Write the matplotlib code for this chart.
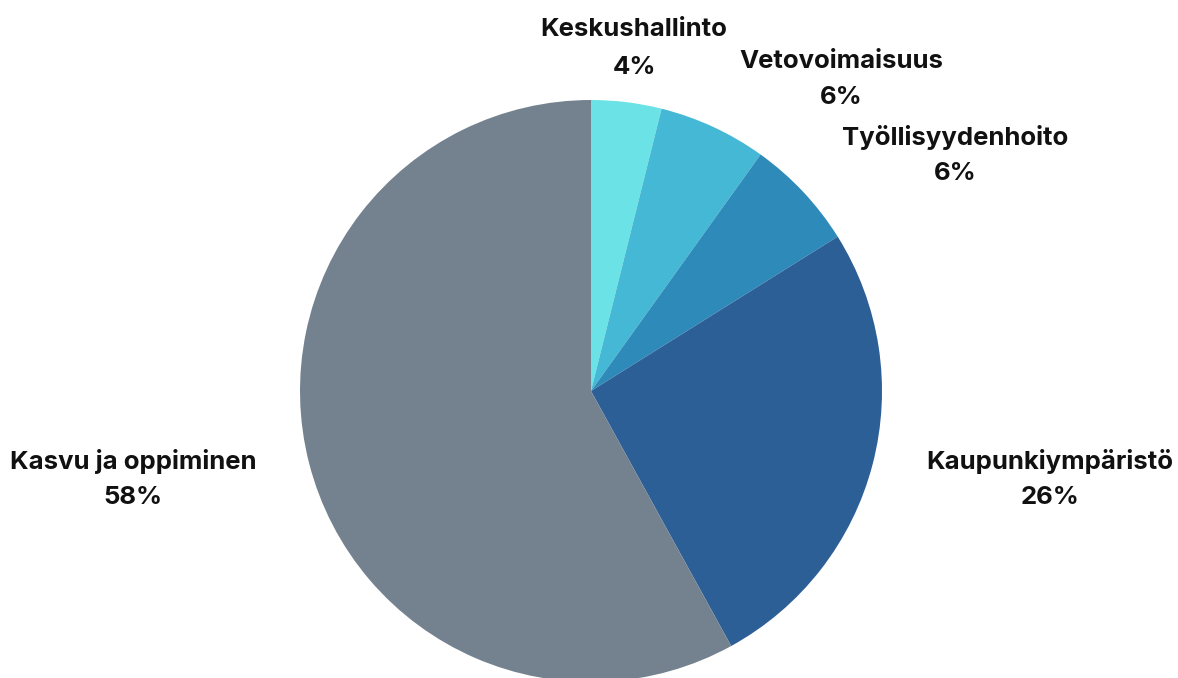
import matplotlib
matplotlib.use("Agg")
import matplotlib.pyplot as plt

categories = ["Keskushallinto", "Vetovoimaisuus", "Työllisyydenhoito", "Kaupunkiympäristö", "Kasvu ja oppiminen"]
values = [3.9, 6.0, 6.2, 25.9, 58.0]
pct_labels = ["4%", "6%", "6%", "26%", "58%"]
colors = ["#6BE3E6", "#45B8D6", "#2E8BB9", "#2D5F97", "#74828F"]

W, H = 1178, 678
fig = plt.figure(figsize=(W / 100, H / 100), dpi=100)
fig.patch.set_facecolor("white")

cx, cy, r = 591, 391, 291
ax = fig.add_axes([(cx - r) / W, (H - cy - r) / H, 2 * r / W, 2 * r / H])
ax.pie(values, colors=colors, startangle=90, counterclock=False,
       wedgeprops=dict(linewidth=0))
ax.set_xlim(-1, 1)
ax.set_ylim(-1, 1)
ax.set_aspect("equal")
ax.axis("off")

# label positions in pixels (center x, name y, pct y)
label_pos = [(634, 30, 68), (841, 62, 98), (955, 138, 173), (1050, 462, 497), (133, 462, 497)]
font = dict(family=["Inter", "DejaVu Sans"], fontweight="bold", fontsize=18.5, color="#111111",
            ha="center", va="center")
for name, pct, (lx, ny, py) in zip(categories, pct_labels, label_pos):
    fig.text(lx / W, 1 - ny / H, name, **font)
    fig.text(lx / W, 1 - py / H, pct, **font)

fig.savefig("out.png", dpi=100, facecolor="white")
